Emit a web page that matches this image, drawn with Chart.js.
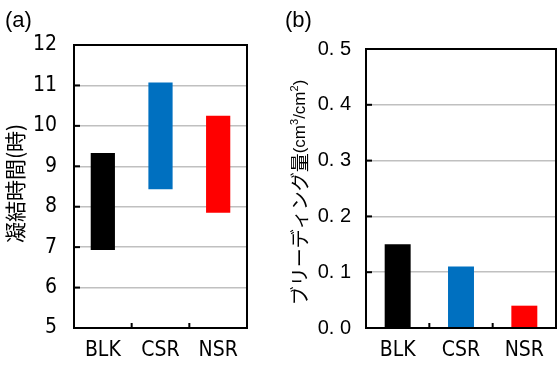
<!DOCTYPE html>
<html>
<head>
<meta charset="UTF-8">
<title>凝結時間とブリーディング量</title>
<script src="https://cdn.jsdelivr.net/npm/chart.js"></script>
<style>
  body { margin: 0; background: #fff; }
  .wrap { position: relative; width: 557px; height: 365px; }
  #boxA { position: absolute; left: 0; top: 0; width: 265px; height: 365px; }
  #boxB { position: absolute; left: 280px; top: 0; width: 277px; height: 365px; }
</style>
</head>
<body>
<div class="wrap">
  <div id="boxA"><canvas id="chartA"></canvas></div>
  <div id="boxB"><canvas id="chartB"></canvas></div>
</div>
<script>
// 配合
const categories = ['BLK', 'CSR', 'NSR'];
// 凝結時間 (始発, 終結) [時]
const setStart = [6.93, 8.43, 7.85];
const setEnd = [9.33, 11.07, 10.25];
// ブリーディング量 [cm3/cm2]
const bleeding = [0.15, 0.11, 0.04];
const barColors = ['#000000', '#0070C0', '#FF0000'];

const NARROW = '"Liberation Sans Narrow", "DejaVu Sans Condensed", sans-serif';
const SANS = '"Liberation Sans", Arial, sans-serif';
const JP = '"Noto Sans CJK JP", sans-serif';

// 枠・内向き目盛・パネル記号・軸タイトル
const framePlugin = {
  id: 'frame',
  afterDraw(chart, args, opts) {
    const { ctx, chartArea: a } = chart;
    const xs = chart.scales.x, ys = chart.scales.y;
    ctx.save();
    ctx.strokeStyle = '#000';
    ctx.lineWidth = 2;
    ys.ticks.forEach((t, i) => {
      const py = ys.getPixelForTick(i);
      ctx.beginPath(); ctx.moveTo(a.left, py); ctx.lineTo(a.left + 6, py); ctx.stroke();
    });
    for (let i = 0; i < categories.length - 1; i++) {
      const px = (xs.getPixelForTick(i) + xs.getPixelForTick(i + 1)) / 2;
      ctx.beginPath(); ctx.moveTo(px, a.bottom); ctx.lineTo(px, a.bottom - 5); ctx.stroke();
    }
    ctx.strokeRect(a.left, a.top, a.right - a.left, a.bottom - a.top);

    ctx.fillStyle = '#000';
    ctx.font = '22px ' + SANS;
    ctx.textBaseline = 'alphabetic';
    ctx.textAlign = 'left';
    ctx.fillText(opts.letter, opts.letterX, 27);

    // 縦書きタイトル（部分ごとにフォントを変える）
    let total = 0;
    opts.title.forEach(s => { ctx.font = s.font; s.w = ctx.measureText(s.text).width; total += s.w; });
    ctx.translate(opts.titleX, (a.top + a.bottom) / 2 + (opts.titleShift || 0));
    ctx.rotate(-Math.PI / 2);
    ctx.textBaseline = 'middle';
    let x = -total / 2;
    opts.title.forEach(s => {
      ctx.font = s.font;
      ctx.fillText(s.text, x, s.rise || 0);
      x += s.w;
    });
    ctx.restore();
  }
};

const baseGrid = { color: '#c0c0c0', lineWidth: 1.5, drawTicks: false };

new Chart(document.getElementById('chartA'), {
  type: 'bar',
  data: {
    labels: categories,
    datasets: [{
      data: categories.map((c, i) => [setStart[i], setEnd[i]]),
      backgroundColor: barColors,
      barPercentage: 0.42,
      categoryPercentage: 1
    }]
  },
  options: {
    responsive: true,
    maintainAspectRatio: false,
    animation: false,
    layout: { padding: { top: 45, right: 18, bottom: 0, left: 0 } },
    plugins: {
      legend: { display: false },
      tooltip: { enabled: false },
      frame: {
        letter: '(a)', letterX: 5, titleX: 15, titleShift: -3,
        title: [{ text: '凝結時間(時)', font: '21px ' + JP }]
      }
    },
    scales: {
      x: {
        grid: { display: false, drawTicks: false },
        border: { display: false },
        ticks: { color: '#000', font: { family: NARROW, size: 21 }, padding: 10 },
        afterFit(s) { s.height = 37; }
      },
      y: {
        min: 5, max: 12,
        grid: baseGrid,
        border: { display: false },
        ticks: { stepSize: 1, color: '#000', font: { family: NARROW, size: 21 }, padding: 17 },
        afterFit(s) { s.width = 74; }
      }
    }
  },
  plugins: [framePlugin]
});

new Chart(document.getElementById('chartB'), {
  type: 'bar',
  data: {
    labels: categories,
    datasets: [{
      data: bleeding,
      backgroundColor: barColors,
      barPercentage: 0.41,
      categoryPercentage: 1
    }]
  },
  options: {
    responsive: true,
    maintainAspectRatio: false,
    animation: false,
    layout: { padding: { top: 49, right: 1, bottom: 0, left: 0 } },
    plugins: {
      legend: { display: false },
      tooltip: { enabled: false },
      frame: {
        letter: '(b)', letterX: 5, titleX: 20, titleShift: 4,
        title: [
          { text: 'ブリーディング量', font: '19px ' + JP },
          { text: '(cm', font: '17px ' + SANS },
          { text: '3', font: '11px ' + SANS, rise: -5 },
          { text: '/cm', font: '17px ' + SANS },
          { text: '2', font: '11px ' + SANS, rise: -5 },
          { text: ')', font: '17px ' + SANS }
        ]
      }
    },
    scales: {
      x: {
        grid: { display: false, drawTicks: false },
        border: { display: false },
        ticks: { color: '#000', font: { family: NARROW, size: 21 }, padding: 10 },
        afterFit(s) { s.height = 37; }
      },
      y: {
        min: 0, max: 0.5,
        grid: baseGrid,
        border: { display: false },
        ticks: {
          stepSize: 0.1, color: '#000', font: { family: SANS, size: 20 }, padding: 15,
          callback: v => v.toFixed(1).replace('.', '. ')
        },
        afterFit(s) { s.width = 86; }
      }
    }
  },
  plugins: [framePlugin]
});
</script>
</body>
</html>
